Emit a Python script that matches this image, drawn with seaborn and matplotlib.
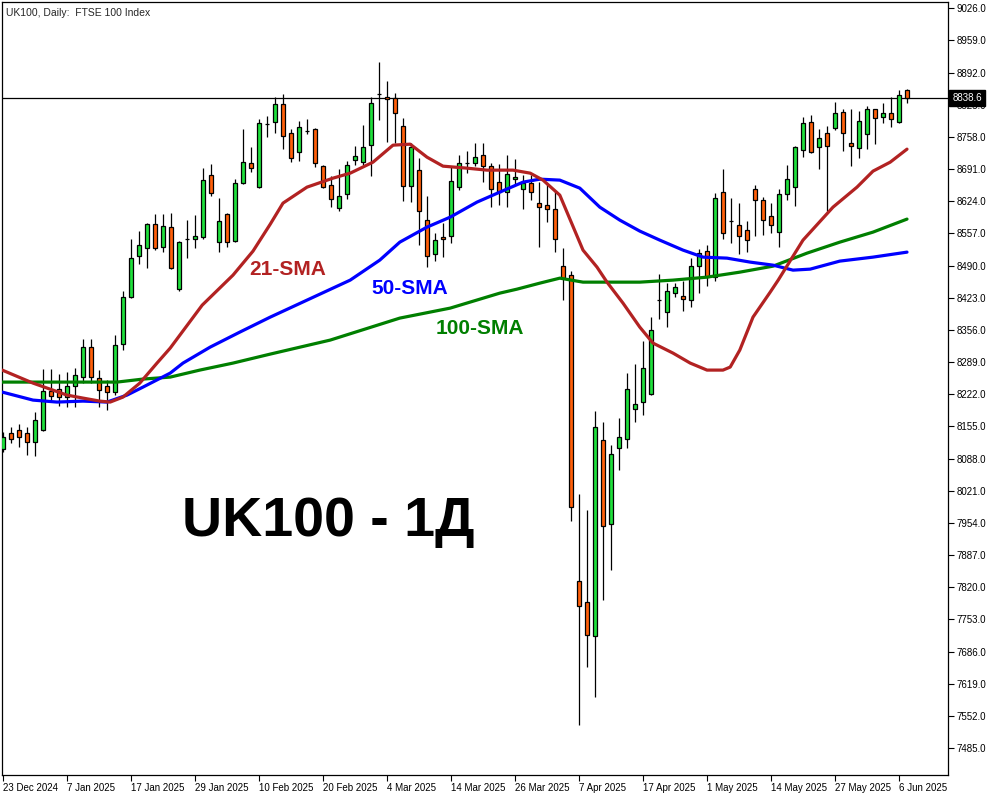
import matplotlib
matplotlib.use("Agg")
import matplotlib.pyplot as plt
import seaborn as sns
import pandas as pd

# ─── DATA ────────────────────────────────────────────────────────────────────
TITLE = "UK100, Daily:  FTSE 100 Index"
date_labels = ["23 Dec 2024", "7 Jan 2025", "17 Jan 2025", "29 Jan 2025", "10 Feb 2025",
               "20 Feb 2025", "4 Mar 2025", "14 Mar 2025", "26 Mar 2025", "7 Apr 2025",
               "17 Apr 2025", "1 May 2025", "14 May 2025", "27 May 2025", "6 Jun 2025"]
price_ticks = [7485, 7552, 7619, 7686, 7753, 7820, 7887, 7954, 8021, 8088, 8155, 8222,
               8289, 8356, 8423, 8490, 8557, 8624, 8691, 8758, 8825, 8892, 8959, 9026]
last_price = 8838.6

opens = [8107.7, 8141.0, 8147.2, 8141.0, 8122.3, 8147.2, 8228.5, 8232.6, 8216.0, 8238.9,
         8257.6, 8320.1, 8255.5, 8238.9, 8226.4, 8326.3, 8424.2, 8509.6, 8526.2, 8576.2,
         8528.3, 8570.0, 8440.8, 8545.0, 8545.0, 8549.2, 8678.3, 8538.7, 8597.1, 8540.8,
         8661.6, 8703.2, 8653.3, 8784.4, 8788.6, 8826.1, 8765.7, 8726.1, 8769.9, 8774.0,
         8697.0, 8657.4, 8609.5, 8638.7, 8709.5, 8705.3, 8740.7, 8846.9, 8840.7, 8838.6,
         8780.3, 8655.4, 8688.7, 8584.6, 8513.7, 8549.2, 8551.2, 8653.3, 8703.2, 8703.2,
         8719.9, 8697.0, 8663.7, 8642.9, 8669.9, 8649.1, 8661.6, 8620.0, 8615.8, 8607.5,
         8488.7, 8470.0, 7832.8, 7789.1, 7718.3, 8126.4, 7951.5, 8109.8, 8128.5, 8191.0,
         8205.6, 8222.2, 8417.9, 8393.0, 8432.5, 8426.3, 8417.9, 8488.7, 8520.0, 8465.8,
         8642.9, 8582.5, 8574.2, 8563.7, 8649.1, 8626.2, 8592.9, 8559.6, 8638.7, 8653.3,
         8730.3, 8788.6, 8736.6, 8765.7, 8776.1, 8809.4, 8744.9, 8734.5, 8763.6, 8815.7,
         8799.0, 8807.4, 8788.6, 8855.2]
highs = [8143.1, 8153.5, 8159.7, 8153.5, 8184.7, 8274.3, 8274.3, 8263.9, 8268.0, 8276.4,
         8336.7, 8336.7, 8272.2, 8251.4, 8345.0, 8436.7, 8545.0, 8561.7, 8578.3, 8597.1,
         8597.1, 8599.1, 8541.0, 8584.6, 8595.0, 8692.8, 8701.2, 8630.4, 8600.0, 8669.9,
         8774.0, 8736.6, 8794.8, 8801.1, 8840.7, 8846.9, 8774.0, 8790.7, 8794.8, 8775.5,
         8700.0, 8676.2, 8690.8, 8707.4, 8738.6, 8782.3, 8840.7, 8913.5, 8874.0, 8849.0,
         8796.9, 8744.9, 8713.6, 8634.5, 8557.5, 8578.3, 8694.9, 8719.9, 8728.2, 8744.9,
         8744.9, 8703.2, 8701.2, 8719.9, 8711.6, 8678.3, 8678.3, 8663.7, 8659.5, 8644.9,
         8526.2, 8478.3, 8014.0, 7980.7, 8186.8, 8163.9, 8116.0, 8172.2, 8265.9, 8284.7,
         8332.6, 8382.5, 8472.1, 8453.3, 8453.3, 8457.5, 8505.4, 8524.2, 8532.5, 8640.8,
         8690.8, 8630.4, 8620.0, 8582.5, 8657.4, 8632.5, 8620.0, 8649.1, 8699.1, 8738.6,
         8799.0, 8803.2, 8774.0, 8780.3, 8830.2, 8815.7, 8815.7, 8811.5, 8821.9, 8817.0,
         8828.2, 8840.7, 8855.2, 8857.0]
lows = [8101.5, 8120.2, 8111.9, 8095.2, 8093.1, 8145.0, 8209.7, 8197.2, 8195.1, 8195.1,
        8245.1, 8245.1, 8195.1, 8188.9, 8220.1, 8313.9, 8422.1, 8492.9, 8484.6, 8522.1,
        8517.9, 8482.5, 8436.7, 8505.4, 8526.2, 8545.0, 8634.5, 8517.9, 8528.3, 8538.7,
        8660.0, 8684.5, 8651.2, 8757.4, 8765.7, 8732.4, 8705.3, 8707.4, 8763.6, 8694.9,
        8651.2, 8611.6, 8603.3, 8628.3, 8699.1, 8699.1, 8676.2, 8792.8, 8747.0, 8744.9,
        8624.1, 8622.1, 8532.5, 8486.7, 8499.2, 8507.5, 8536.7, 8647.0, 8682.4, 8697.0,
        8663.7, 8611.6, 8615.8, 8611.6, 8657.4, 8607.5, 8626.2, 8528.3, 8580.4, 8517.9,
        8417.9, 7957.8, 7533.0, 7653.7, 7591.3, 7793.3, 7855.7, 8064.0, 8109.8, 8163.9,
        8178.5, 8220.0, 8378.4, 8361.7, 8424.2, 8395.0, 8403.3, 8432.5, 8447.1, 8457.5,
        8545.0, 8536.7, 8513.7, 8517.9, 8551.2, 8553.3, 8557.5, 8528.3, 8626.2, 8613.7,
        8715.7, 8724.1, 8690.8, 8603.3, 8771.9, 8728.2, 8697.0, 8713.6, 8732.4, 8742.8,
        8786.5, 8778.2, 8786.5, 8828.2]
closes = [8132.7, 8128.5, 8132.7, 8122.3, 8168.1, 8228.5, 8218.1, 8216.0, 8238.9, 8261.8,
          8320.1, 8257.6, 8230.5, 8226.4, 8324.3, 8424.2, 8505.4, 8532.5, 8576.2, 8526.2,
          8572.1, 8484.6, 8538.7, 8545.8, 8551.2, 8667.9, 8640.8, 8582.5, 8538.7, 8661.6,
          8705.3, 8692.8, 8786.5, 8785.2, 8826.1, 8759.5, 8713.6, 8778.2, 8770.6, 8703.2,
          8653.3, 8628.3, 8634.5, 8699.1, 8717.8, 8736.6, 8828.2, 8847.7, 8836.5, 8807.4,
          8655.4, 8736.6, 8603.3, 8509.6, 8542.9, 8545.0, 8665.8, 8703.2, 8703.9, 8715.7,
          8697.0, 8649.1, 8642.9, 8680.3, 8674.1, 8661.6, 8642.9, 8611.6, 8607.5, 8545.0,
          8463.7, 7986.9, 7780.8, 7720.4, 8153.5, 7947.4, 8097.3, 8132.7, 8232.6, 8201.4,
          8276.4, 8355.5, 8418.6, 8436.7, 8445.0, 8420.0, 8488.7, 8515.8, 8465.8, 8630.4,
          8557.5, 8583.2, 8551.2, 8542.9, 8626.2, 8584.6, 8574.2, 8638.7, 8669.9, 8736.6,
          8786.5, 8726.1, 8755.3, 8738.6, 8807.4, 8765.7, 8738.6, 8790.7, 8815.7, 8796.9,
          8807.4, 8794.8, 8844.8, 8838.6]

# moving averages as drawn on the chart (bar index, price)
sma21_x = [-0.1, 3.75, 8, 10, 12.1, 13.4, 15, 17.1, 19.25, 20.9, 24.9, 28.75, 31.25, 33.4,
           35, 38, 41.25, 43.4, 46.25, 48.75, 50.9, 53, 55, 58, 60.5, 63.75, 65.9, 67.5,
           69.6, 72.5, 74.25, 75.5, 77.5, 79.6, 81.25, 83.75, 85.9, 88, 90, 90.9, 92.1,
           93.75, 95.9, 96.9, 100, 103.75, 106.75, 108.75, 110.9, 113]
sma21_y = [8272.2, 8245.1, 8220.1, 8213.9, 8207.6, 8205.6, 8216.0, 8245.1, 8286.8, 8318.0,
           8407.5, 8470.0, 8520.0, 8576.0, 8620.0, 8653.3, 8672.0, 8682.4, 8705.3, 8740.7,
           8742.8, 8715.7, 8697.0, 8692.8, 8688.7, 8688.7, 8682.4, 8667.9, 8636.6, 8522.1,
           8486.7, 8455.4, 8411.7, 8361.7, 8328.4, 8307.6, 8286.8, 8272.2, 8272.2, 8278.5,
           8313.9, 8382.5, 8434.6, 8459.6, 8542.9, 8611.6, 8653.3, 8686.6, 8705.3, 8732.4]
sma50_x = [-0.1, 3.75, 6.75, 10, 13, 15.5, 17.5, 20.9, 22.5, 25.9, 29.6, 33.4, 43.4, 47.1,
           49.6, 53, 55.9, 59.25, 62.1, 65, 67.1, 69.6, 72.1, 74.6, 77.1, 79.6, 82.1, 85,
           87.5, 90.5, 93.4, 96.25, 98.75, 100.9, 104.6, 108.75, 113]
sma50_y = [8226.4, 8209.7, 8205.6, 8207.6, 8205.6, 8220.1, 8236.8, 8265.9, 8286.8, 8320.1,
           8351.3, 8382.5, 8459.6, 8501.3, 8538.7, 8570.0, 8590.8, 8622.1, 8642.9, 8663.7,
           8669.9, 8667.9, 8651.2, 8611.6, 8584.6, 8561.7, 8542.9, 8522.1, 8507.5, 8505.4,
           8497.1, 8490.8, 8480.4, 8482.5, 8499.2, 8507.5, 8517.9]
sma100_x = [-0.1, 8, 14.25, 17.5, 20.9, 24.6, 28.75, 33.4, 40.9, 49.6, 55.9, 62.1, 64.25,
            67.1, 69.6, 72.5, 75.5, 79.6, 83.75, 88, 92.1, 96.25, 100.5, 104.6, 108.75, 113]
sma100_y = [8247.2, 8247.2, 8247.2, 8253.5, 8257.6, 8272.2, 8286.8, 8305.5, 8334.7, 8380.5,
            8401.3, 8432.5, 8440.8, 8453.3, 8463.7, 8455.4, 8455.4, 8455.4, 8459.6, 8465.8,
            8476.2, 8488.7, 8515.8, 8538.7, 8559.6, 8586.7]

# ─── STYLE ───────────────────────────────────────────────────────────────────
UP_COLOR   = "#1fe03c"
DOWN_COLOR = "#ff5f0a"
RED   = "#b22222"
BLUE  = "#0000ff"
GREEN = "#007f00"
LAB_FONT  = "Liberation Sans"

sns.set_style("white")
plt.rcParams["font.family"] = ["Liberation Sans", "DejaVu Sans"]

df = pd.DataFrame({"open": opens, "high": highs, "low": lows, "close": closes})
df["idx"] = range(len(df))
df["color"] = [UP_COLOR if c >= o else DOWN_COLOR for o, c in zip(df.open, df.close)]

fig = plt.figure(figsize=(10, 8), dpi=100)
ax = fig.add_axes([0.002, 0.03125, 0.946, 0.966])

# candles
ax.vlines(df.idx, df.low, df.high, color="black", linewidth=0.9, zorder=2)
ax.bar(df.idx, df.close - df.open, bottom=df.open, width=0.62, color=df.color,
       edgecolor="black", linewidth=0.9, zorder=3)

# moving averages
for xs, ys, col in [(sma100_x, sma100_y, GREEN), (sma50_x, sma50_y, BLUE), (sma21_x, sma21_y, RED)]:
    sns.lineplot(x=xs, y=ys, color=col, linewidth=2.3, ax=ax, zorder=4, sort=False)

ax.axhline(last_price, color="black", linewidth=0.9, zorder=1)

# annotations
ax.text(35.6, 8482.5, "21-SMA", color=RED, fontsize=15, fontweight="bold",
        family=LAB_FONT, ha="center", va="center", zorder=5)
ax.text(50.9, 8442.9, "50-SMA", color=BLUE, fontsize=15, fontweight="bold",
        family=LAB_FONT, ha="center", va="center", zorder=5)
ax.text(59.6, 8359.6, "100-SMA", color=GREEN, fontsize=15, fontweight="bold",
        family=LAB_FONT, ha="center", va="center", zorder=5)
ax.text(40.6, 7955.6, "UK100 - 1Д", color="black", fontsize=40, fontweight="bold",
        family=LAB_FONT, ha="center", va="center", zorder=5)
ax.text(0.004, 0.992, TITLE, transform=ax.transAxes, fontsize=7.5, ha="left", va="top")

# axes
ax.set_xlim(-0.125, 118.125)
ax.set_ylim(7428.8, 9038.5)
ax.set_xticks(range(0, 8 * len(date_labels), 8))
ax.set_xticklabels(date_labels, fontsize=7, ha="left")
ax.yaxis.tick_right()
ax.set_yticks(price_ticks)
ax.set_yticklabels([f"{p:.1f}" for p in price_ticks], fontsize=7)
ax.tick_params(axis="both", direction="out", length=4, width=0.8, pad=2, colors="black")
ax.tick_params(axis="x", bottom=True)
ax.tick_params(axis="y", right=True)
for s in ax.spines.values():
    s.set_color("black")
    s.set_linewidth(0.9)
ax.set_xlabel("")
ax.set_ylabel("")

# last price tag on the price scale (covers the 8825.0 label as in MT5)
ax.text(1.0045, last_price, f"{last_price:.1f}", transform=ax.get_yaxis_transform(),
        fontsize=7, color="white", ha="left", va="center", zorder=6,
        bbox=dict(boxstyle="square,pad=0.3", fc="black", ec="black"))

fig.savefig("out.png", dpi=100)
